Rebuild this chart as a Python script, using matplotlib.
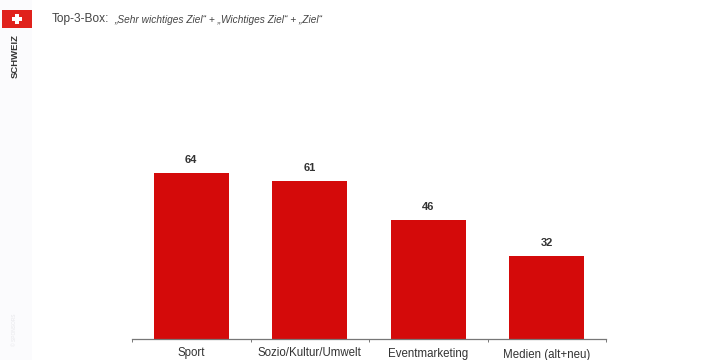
import matplotlib
matplotlib.use("Agg")
import matplotlib.pyplot as plt
from matplotlib.patches import Rectangle

categories = ["Sport", "Sozio/Kultur/Umwelt", "Eventmarketing", "Medien (alt+neu)"]
values = [64, 61, 46, 32]

W, H = 716, 360
RED = "#d40a0a"

plt.rcParams["font.family"] = ["Liberation Sans", "DejaVu Sans"]

fig = plt.figure(figsize=(W / 100, H / 100), dpi=100)
fig.patch.set_facecolor("#ffffff")

# plot area in pixels: baseline at y=339, x from 132 to 606
ax = fig.add_axes([132 / W, (H - 339) / H, 474 / W, 220 / H])
ax.bar(range(len(values)), values, width=0.63, color=RED, zorder=2)
ax.set_xlim(-0.5, 3.5)
ax.set_ylim(0, 220 / 2.59)
ax.patch.set_alpha(0)

for i, v in enumerate(values):
    ax.annotate(str(v), (i, v), xytext=(0, 8), textcoords="offset pixels",
                ha="center", va="bottom", fontsize=8, fontweight="bold", color="#333333")

for side in ["top", "left", "right"]:
    ax.spines[side].set_visible(False)
ax.spines["bottom"].set_color("#777777")
ax.spines["bottom"].set_linewidth(0.9)
ax.set_yticks([])
ax.set_xticks([-0.5, 0.5, 1.5, 2.5, 3.5])
ax.set_xticklabels([])
ax.tick_params(axis="x", length=2, width=0.7, color="#777777", direction="out")

# category labels sit a little lower towards the right
label_y = [353, 353, 354, 355]
for i, (name, y) in enumerate(zip(categories, label_y)):
    x = 132 + (i + 0.5) * 474 / 4
    fig.text(x / W, (H - y) / H, name, ha="center", va="center",
             fontsize=8.3, color="#333333")

# pale strip on the left with the flag and country name
fig.add_artist(Rectangle((0, 0), 32 / W, 1, transform=fig.transFigure,
                         facecolor="#fbfbfd", edgecolor="none", zorder=0))
fig.add_artist(Rectangle((2 / W, (H - 28) / H), 30 / W, 18 / H, transform=fig.transFigure,
                         facecolor="#e0221c", edgecolor="none"))
fig.add_artist(Rectangle((12 / W, (H - 21) / H), 10 / W, 4 / H, transform=fig.transFigure,
                         facecolor="white", edgecolor="none"))
fig.add_artist(Rectangle((15 / W, (H - 24) / H), 4 / W, 10 / H, transform=fig.transFigure,
                         facecolor="white", edgecolor="none"))
fig.text(15 / W, (H - 56) / H, "SCHWEIZ", rotation=90, ha="center", va="center",
         fontsize=6.8, fontweight="bold", color="#333333")
fig.text(15 / W, (H - 330) / H, "\u00a9 SPONSORS", rotation=90, ha="center", va="center",
         fontsize=3.5, color="#e6e6ea")

fig.text(52 / W, (H - 19) / H, "Top-3-Box:", ha="left", va="center",
         fontsize=8.6, color="#444444")
fig.text(114 / W, (H - 20) / H, "„Sehr wichtiges Ziel“ + „Wichtiges Ziel“ + „Ziel“",
         ha="left", va="center", fontsize=7.3, style="italic", color="#444444")

fig.savefig("out.png", dpi=100)
